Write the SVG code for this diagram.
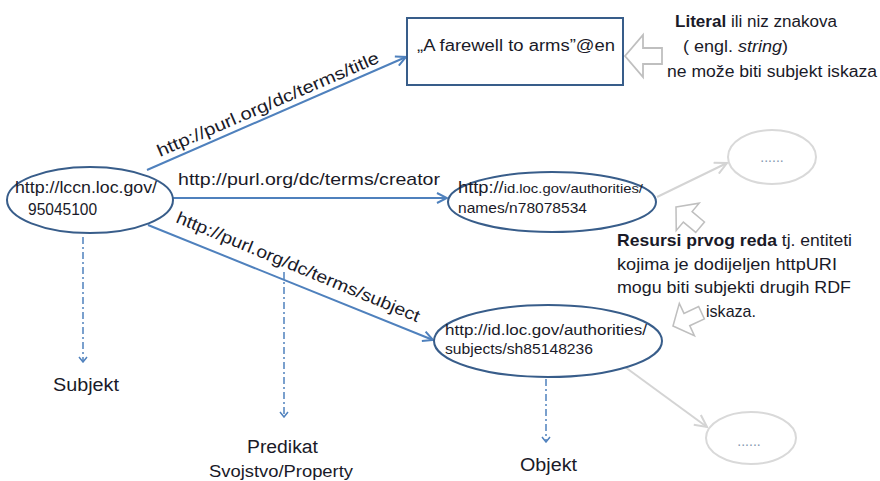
<svg xmlns="http://www.w3.org/2000/svg" width="880" height="481" viewBox="0 0 880 481">
<style>
text{font-family:"Liberation Sans",Arial,sans-serif;fill:#1a1a28}
.edge{stroke:#4f81bd;stroke-width:2;fill:none}
.dash{stroke:#4f81bd;stroke-width:1.5;fill:none;stroke-dasharray:7 3 2 3}
.gray{stroke:#d4d4d4;stroke-width:2;fill:none}
.node{fill:#fff;stroke:#385d8a;stroke-width:2}
.gnode{fill:#fff;stroke:#d9d9d9;stroke-width:2}
.hollow{fill:#fff;stroke:#bfbfbf;stroke-width:1.8;stroke-linejoin:miter}
.lbl{font-size:17px}
.dots{font-size:14px;fill:#8597b0}
</style>
<defs>
<marker id="ab" viewBox="0 0 12 12" refX="11" refY="6" markerWidth="12" markerHeight="12" markerUnits="userSpaceOnUse" orient="auto">
<path d="M1,1 L11,6 L1,11" fill="none" stroke="#4f81bd" stroke-width="2"/>
</marker>
<marker id="ag" viewBox="0 0 14 14" refX="13" refY="7" markerWidth="14" markerHeight="14" markerUnits="userSpaceOnUse" orient="auto">
<path d="M1,1 L13,7 L1,13" fill="none" stroke="#d4d4d4" stroke-width="2"/>
</marker>
<marker id="ad" viewBox="0 0 10 10" refX="9" refY="5" markerWidth="10" markerHeight="10" markerUnits="userSpaceOnUse" orient="auto">
<path d="M4,1 L9,5 L4,9" fill="none" stroke="#4f81bd" stroke-width="1.5"/>
</marker>
<polygon id="harrow" points="0,0 18,-21 18,-8 37,-8 37,8 18,8 18,21"/>
</defs>

<g id="connectors">
<line class="edge" x1="147" y1="170" x2="406" y2="57" marker-end="url(#ab)"/>
<line class="edge" x1="173" y1="198" x2="447" y2="198" marker-end="url(#ab)"/>
<line class="edge" x1="148" y1="225" x2="433" y2="340" marker-end="url(#ab)"/>
<line class="gray" x1="657" y1="197" x2="727" y2="163" marker-end="url(#ag)"/>
<line class="gray" x1="625" y1="367" x2="707" y2="427" marker-end="url(#ag)"/>
<line class="dash" x1="83" y1="237" x2="83" y2="362" marker-end="url(#ad)"/>
<line class="dash" x1="284" y1="272" x2="284" y2="417" marker-end="url(#ad)"/>
<line class="dash" x1="546" y1="379" x2="546" y2="442" marker-end="url(#ad)"/>
<text class="lbl" transform="translate(160,157) rotate(-23.3)" textLength="240" lengthAdjust="spacingAndGlyphs">http://purl.org/dc/terms/title</text>
<text class="lbl" x="178" y="185" textLength="262" lengthAdjust="spacingAndGlyphs">http://purl.org/dc/terms/creator</text>
<text class="lbl" transform="translate(175,222) rotate(22.5)" textLength="262" lengthAdjust="spacingAndGlyphs">http://purl.org/dc/terms/subject</text>
</g>

<g id="subject">
<ellipse class="node" cx="90" cy="200" rx="83" ry="33"/>
<text x="15" y="193" font-size="16" textLength="142" lengthAdjust="spacingAndGlyphs">http://lccn.loc.gov/</text>
<text x="28" y="215" font-size="16" textLength="69" lengthAdjust="spacingAndGlyphs">95045100</text>
</g>

<g id="literal">
<rect class="node" x="407" y="18" width="216" height="67"/>
<text x="417" y="51" font-size="16" textLength="198" lengthAdjust="spacingAndGlyphs">„A farewell to arms”@en</text>
</g>

<g id="creator-object">
<ellipse class="node" cx="552" cy="202" rx="104" ry="30"/>
<text x="458" y="193" font-size="13" textLength="185" lengthAdjust="spacingAndGlyphs"><tspan font-size="16">http://</tspan>id.loc.gov/authorities/</text>
<text x="458" y="213" font-size="15" textLength="129" lengthAdjust="spacingAndGlyphs">names/n78078534</text>
</g>

<g id="subject-object">
<ellipse class="node" cx="548" cy="341" rx="114" ry="36"/>
<text x="445" y="335" font-size="14" textLength="202" lengthAdjust="spacingAndGlyphs">http://id.loc.gov/authorities/</text>
<text x="445" y="354" font-size="14" textLength="148" lengthAdjust="spacingAndGlyphs">subjects/sh85148236</text>
</g>

<g id="more-1">
<ellipse class="gnode" cx="772" cy="157" rx="44" ry="27"/>
<text class="dots" x="772" y="162" text-anchor="middle">......</text>
</g>

<g id="more-2">
<ellipse class="gnode" cx="751" cy="438" rx="45" ry="26"/>
<text class="dots" x="749" y="446" text-anchor="middle">......</text>
</g>

<g id="literal-note">
<use href="#harrow" class="hollow" transform="translate(625,56)"/>
<text x="675" y="27" font-size="16" textLength="162" lengthAdjust="spacingAndGlyphs"><tspan font-weight="bold">Literal</tspan> ili niz znakova</text>
<text x="683" y="52" font-size="16" textLength="105" lengthAdjust="spacingAndGlyphs">( engl. <tspan font-style="italic">string</tspan>)</text>
<text x="667" y="77" font-size="16" textLength="210" lengthAdjust="spacingAndGlyphs">ne može biti subjekt iskaza</text>
</g>

<g id="resource-note">
<use href="#harrow" class="hollow" transform="translate(676,207) rotate(40) scale(0.85)"/>
<use href="#harrow" class="hollow" transform="translate(673,326) rotate(-25) scale(0.85)"/>
<text x="617" y="246" font-size="17" textLength="235" lengthAdjust="spacingAndGlyphs"><tspan font-weight="bold">Resursi prvog reda</tspan> tj. entiteti</text>
<text x="617" y="270" font-size="17" textLength="220" lengthAdjust="spacingAndGlyphs">kojima je dodijeljen httpURI</text>
<text x="617" y="293" font-size="17" textLength="234" lengthAdjust="spacingAndGlyphs">mogu biti subjekti drugih RDF</text>
<text x="706" y="317" font-size="17" textLength="50" lengthAdjust="spacingAndGlyphs">iskaza.</text>
</g>

<g id="role-labels">
<text x="53" y="391" font-size="18" textLength="66" lengthAdjust="spacingAndGlyphs">Subjekt</text>
<text x="247" y="453" font-size="18" textLength="71" lengthAdjust="spacingAndGlyphs">Predikat</text>
<text x="209" y="477" font-size="16" textLength="144" lengthAdjust="spacingAndGlyphs">Svojstvo/Property</text>
<text x="520" y="471" font-size="18" textLength="57" lengthAdjust="spacingAndGlyphs">Objekt</text>
</g>
</svg>
